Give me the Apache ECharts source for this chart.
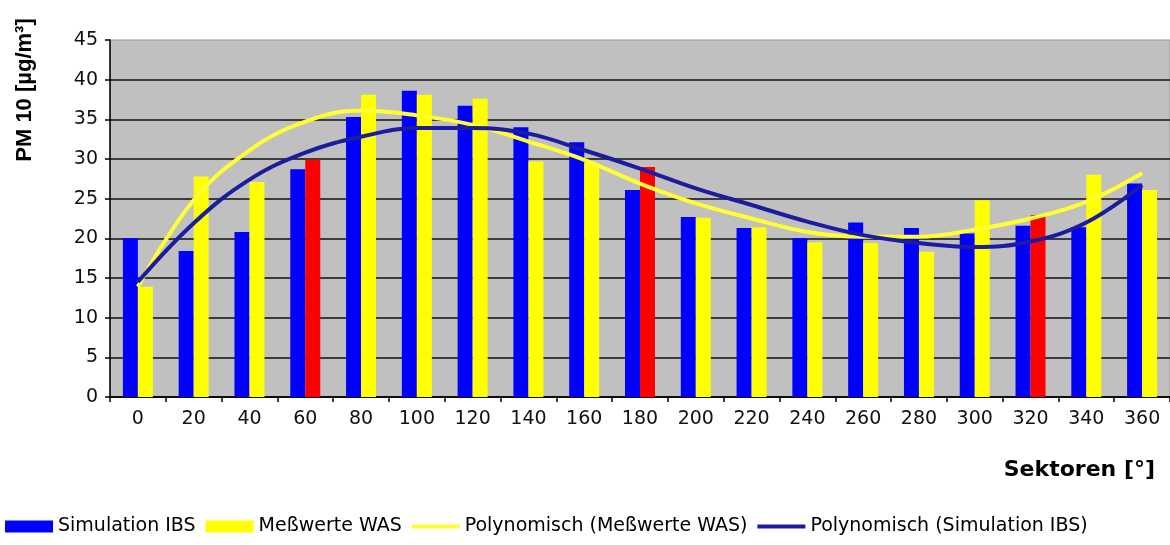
<!DOCTYPE html>
<html>
<head>
<meta charset="utf-8">
<title>PM 10 Sektoren</title>
<script src="https://cdn.jsdelivr.net/npm/echarts@6/dist/echarts.min.js"></script>
<style>
  html, body { margin: 0; padding: 0; background: #fff; }
  #chart { width: 1170px; height: 545px; }
</style>
</head>
<body>
<div id="chart"></div>
<script>
// Sektoren [°]
var sectors = ["0", "20", "40", "60", "80", "100", "120", "140", "160", "180",
  "200", "220", "240", "260", "280", "300", "320", "340", "360"];
// PM 10 [µg/m³]
var simulationIBS = [20.0, 18.4, 20.8, 28.7, 35.3, 38.6, 36.7, 34.0, 32.1, 26.1,
  22.7, 21.3, 20.0, 22.0, 21.3, 20.6, 21.6, 21.4, 26.9];
var messwerteWAS = [13.9, 27.8, 27.1, 29.9, 38.1, 38.1, 37.6, 29.7, 29.5, 29.0,
  22.6, 21.4, 19.5, 19.4, 18.3, 24.8, 22.9, 28.0, 26.1];
// Meßwerte, die rot markiert sind
var redSectors = ["60", "180", "320"];
var polyWAS = [13.9, 24.8, 31.1, 34.7, 36.1, 35.5, 34.3, 32.2, 29.9, 26.9,
  24.4, 22.5, 20.8, 20.2, 20.2, 21.1, 22.5, 24.6, 28.2];
var polyIBS = [14.5, 21.9, 27.4, 30.8, 32.8, 33.9, 33.9, 33.2, 31.1, 28.8,
  26.3, 24.2, 22.1, 20.4, 19.4, 18.9, 19.6, 22.0, 26.7];
var yTicks = [0, 5, 10, 15, 20, 25, 30, 35, 40, 45];

var chart = echarts.init(document.getElementById("chart"));

var wasData = messwerteWAS.map(function (v, i) {
  if (redSectors.indexOf(sectors[i]) >= 0) {
    return { value: v, itemStyle: { color: "#ff0000" } };
  }
  return v;
});

var tickFont = "DejaVu Sans";
// dicker Strich als Legendensymbol für die Trendlinien
var lineIcon = "path://M0,0L48,0L48,4L0,4Z";

chart.setOption({
  backgroundColor: "#ffffff",
  animation: false,
  grid: {
    left: 110,
    top: 40,
    width: 1064,
    height: 357,
    show: true,
    backgroundColor: "#c0c0c0",
    borderColor: "#9a9a9a",
    borderWidth: 1
  },
  legend: {
    left: 0,
    top: 512,
    itemWidth: 48,
    itemHeight: 12,
    itemGap: 10,
    textStyle: { fontFamily: tickFont, fontSize: 19, color: "#000" },
    data: [
      { name: "Simulation IBS", icon: "rect" },
      { name: "Meßwerte WAS", icon: "rect", itemStyle: { color: "#ffff00" } },
      { name: "Polynomisch (Meßwerte WAS)", icon: lineIcon },
      { name: "Polynomisch (Simulation IBS)", icon: lineIcon }
    ]
  },
  xAxis: {
    type: "category",
    data: sectors,
    axisLine: { lineStyle: { color: "#000", width: 1.5 } },
    axisTick: { show: true, length: 5, lineStyle: { color: "#000", width: 1.5 } },
    axisLabel: {
      interval: 0,
      margin: 13,
      fontFamily: tickFont,
      fontSize: 19,
      color: "#111"
    },
    splitLine: { show: false }
  },
  yAxis: {
    type: "value",
    min: yTicks[0],
    max: yTicks[yTicks.length - 1],
    interval: 5,
    axisLine: { show: true, lineStyle: { color: "#000", width: 1.5 } },
    axisTick: { show: true, length: 5, lineStyle: { color: "#000", width: 1.5 } },
    axisLabel: {
      margin: 12,
      fontFamily: tickFont,
      fontSize: 19,
      color: "#111"
    },
    splitLine: {
      show: true,
      showMaxLine: false,
      lineStyle: { color: "#111", width: 1.5 }
    }
  },
  graphic: [
    {
      type: "text",
      x: 25,
      y: 90,
      rotation: Math.PI / 2,
      style: {
        text: "PM 10 [µg/m³]",
        font: "bold 22px 'Liberation Sans', Arial, sans-serif",
        fill: "#000",
        textAlign: "center",
        textVerticalAlign: "middle"
      }
    },
    {
      type: "text",
      x: 1155,
      y: 470,
      style: {
        text: "Sektoren [°]",
        font: "bold 22px 'DejaVu Sans', sans-serif",
        fill: "#000",
        textAlign: "right",
        textVerticalAlign: "middle"
      }
    }
  ],
  series: [
    {
      name: "Simulation IBS",
      type: "bar",
      data: simulationIBS,
      barWidth: 15,
      barGap: "0%",
      itemStyle: { color: "#0000ff" }
    },
    {
      name: "Meßwerte WAS",
      type: "bar",
      data: wasData,
      barWidth: 15,
      barGap: "0%",
      itemStyle: { color: "#ffff00" }
    },
    {
      name: "Polynomisch (Meßwerte WAS)",
      type: "line",
      data: polyWAS,
      smooth: 0.4,
      symbol: "none",
      itemStyle: { color: "#ffff33" },
      lineStyle: { color: "#ffff33", width: 4 }
    },
    {
      name: "Polynomisch (Simulation IBS)",
      type: "line",
      data: polyIBS,
      smooth: 0.4,
      symbol: "none",
      itemStyle: { color: "#1c1ca0" },
      lineStyle: { color: "#1c1ca0", width: 4 }
    }
  ]
});
</script>
</body>
</html>
